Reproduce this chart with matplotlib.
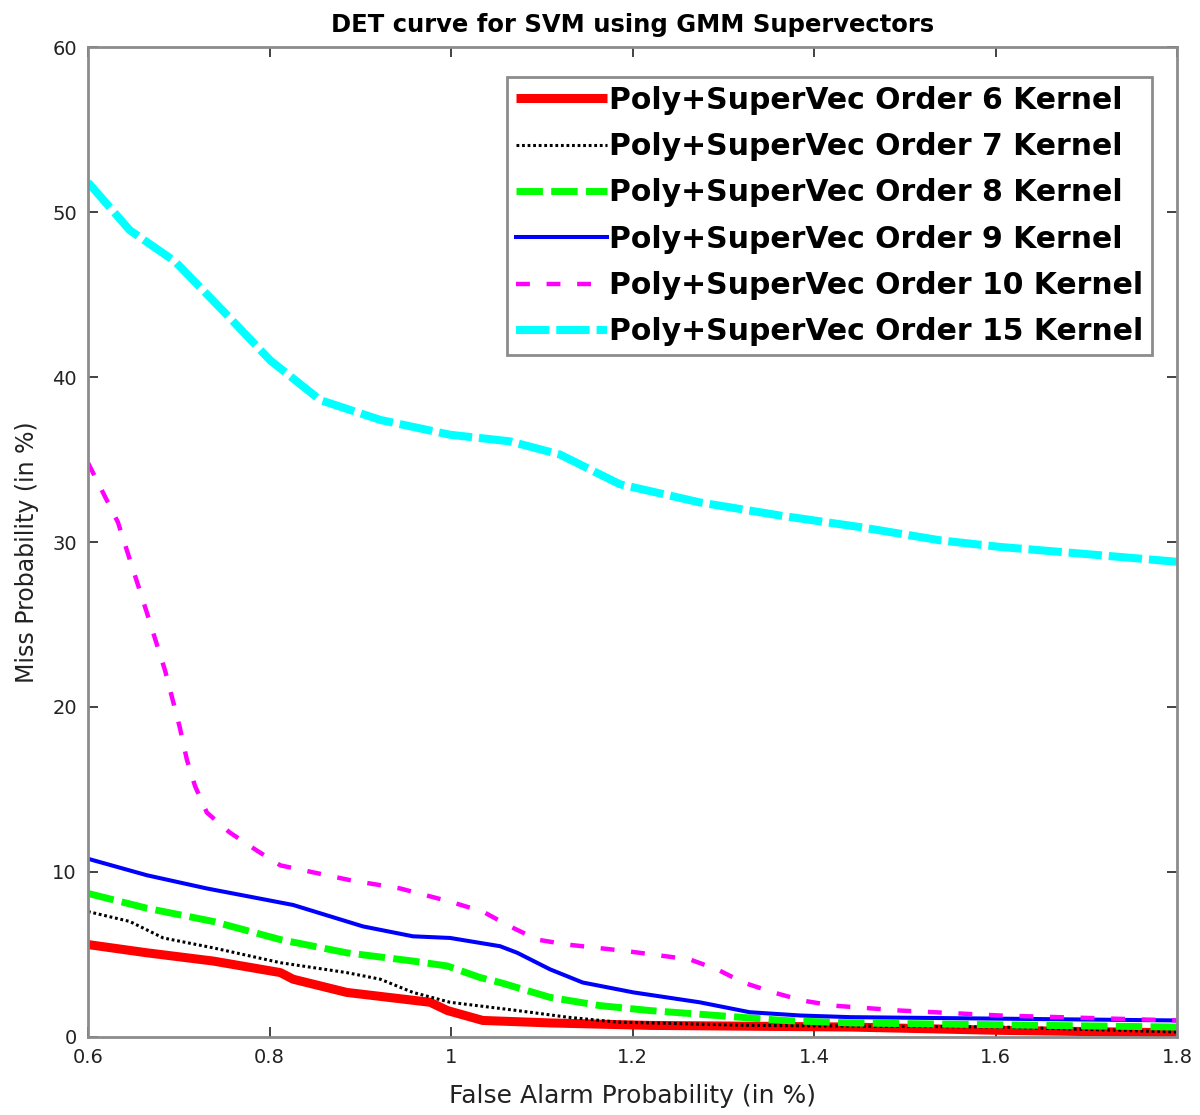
import matplotlib
matplotlib.use("Agg")
import matplotlib.pyplot as plt

plt.rcParams['font.family'] = ['DejaVu Sans']
plt.rcParams['lines.scale_dashes'] = False

# Data
x6 = [0.6, 0.665, 0.738, 0.812, 0.826, 0.885, 0.977, 0.996, 1.035, 1.109, 1.219, 1.440, 1.605, 1.8]
y6 = [5.6, 5.1, 4.6, 3.9, 3.5, 2.7, 2.1, 1.6, 1.0, 0.85, 0.7, 0.6, 0.4, 0.25]

x7 = [0.6, 0.646, 0.683, 0.738, 0.812, 0.885, 0.922, 0.958, 0.999, 1.073, 1.128, 1.183, 1.329, 1.605, 1.8]
y7 = [7.6, 7.0, 6.0, 5.4, 4.5, 3.9, 3.5, 2.7, 2.1, 1.6, 1.2, 0.9, 0.7, 0.6, 0.3]

x8 = [0.6, 0.665, 0.738, 0.812, 0.885, 0.958, 0.996, 1.032, 1.054, 1.109, 1.164, 1.219, 1.293, 1.366, 1.440, 1.8]
y8 = [8.7, 7.8, 7.0, 5.9, 5.1, 4.6, 4.3, 3.6, 3.3, 2.4, 1.9, 1.6, 1.3, 1.0, 0.85, 0.6]

x9 = [0.6, 0.665, 0.731, 0.826, 0.903, 0.958, 0.999, 1.054, 1.073, 1.109, 1.145, 1.201, 1.274, 1.329, 1.385, 1.440, 1.8]
y9 = [10.8, 9.8, 9.0, 8.0, 6.7, 6.1, 6.0, 5.5, 5.1, 4.1, 3.3, 2.7, 2.1, 1.5, 1.3, 1.2, 1.0]

x10 = [0.6, 0.633, 0.644, 0.665, 0.685, 0.701, 0.709, 0.718, 0.731, 0.756, 0.786, 0.812, 0.889, 0.944,
       0.999, 1.035, 1.065, 1.095, 1.128, 1.194, 1.263, 1.293, 1.322, 1.355, 1.388, 1.421, 1.495, 1.605, 1.8]
y10 = [34.8, 31.2, 29.3, 25.7, 22.2, 18.8, 16.8, 15.2, 13.6, 12.4, 11.3, 10.4, 9.5, 9.0,
       8.2, 7.6, 6.7, 5.9, 5.6, 5.2, 4.7, 4.1, 3.3, 2.7, 2.2, 1.9, 1.6, 1.3, 1.0]

x15 = [0.6, 0.646, 0.696, 0.756, 0.801, 0.856, 0.922, 0.999, 1.065, 1.120, 1.186, 1.274, 1.363, 1.451,
       1.539, 1.605, 1.693, 1.8]
y15 = [51.8, 48.9, 47.0, 43.6, 41.0, 38.6, 37.4, 36.5, 36.1, 35.3, 33.5, 32.4, 31.6, 30.9,
       30.1, 29.7, 29.3, 28.8]

labels = ['Poly+SuperVec Order 6 Kernel', 'Poly+SuperVec Order 7 Kernel',
          'Poly+SuperVec Order 8 Kernel', 'Poly+SuperVec Order 9 Kernel',
          'Poly+SuperVec Order 10 Kernel', 'Poly+SuperVec Order 15 Kernel']

xticks = [0.6, 0.8, 1.0, 1.2, 1.4, 1.6, 1.8]
xticklabels = ['0.6', '0.8', '1', '1.2', '1.4', '1.6', '1.8']
yticks = [0, 10, 20, 30, 40, 50, 60]

fig = plt.figure(figsize=(12, 11.15), dpi=100)
ax = fig.add_axes([0.0733, 0.07, 0.9077, 0.8878])

ax.plot(x6, y6, color='#ff0000', lw=6.5, solid_capstyle='butt', label=labels[0])
ax.plot(x7, y7, color='black', lw=2.2, linestyle=(0, (2, 2)), label=labels[1])
ax.plot(x8, y8, color='#00ff00', lw=5.0, linestyle=(0, (19, 6)), label=labels[2])
ax.plot(x9, y9, color='#0000ff', lw=2.9, label=labels[3])
ax.plot(x10, y10, color='#ff00ff', lw=3.2, linestyle=(0, (10, 12)), label=labels[4])
ax.plot(x15, y15, color='#00ffff', lw=5.8, linestyle=(0, (24, 5)), label=labels[5])

ax.set_xlim(0.6, 1.8)
ax.set_ylim(0, 60)
ax.set_xticks(xticks)
ax.set_xticklabels(xticklabels)
ax.set_yticks(yticks)
ax.tick_params(direction='in', top=True, right=True, labelsize=14, length=7, width=1.2,
               color='#222222', labelcolor='#222222', pad=8)
for s in ax.spines.values():
    s.set_color('#8c8c8c')
    s.set_linewidth(2)

ax.set_title('DET curve for SVM using GMM Supervectors', fontsize=17.5, fontweight='bold', pad=11)
ax.set_xlabel('False Alarm Probability (in %)', fontsize=18, color='#222222', labelpad=12)
ax.set_ylabel('Miss Probability (in %)', fontsize=17, color='#222222')
ax.yaxis.set_label_coords(-0.045, 0.49)

leg = ax.legend(loc='upper right', bbox_to_anchor=(0.977, 0.97), borderaxespad=0,
                prop={'size': 21.5, 'weight': 'bold'}, handlelength=3.05, handletextpad=0.05,
                labelspacing=0.58, fancybox=False, framealpha=1, borderpad=0.3)
leg.get_frame().set_edgecolor('#8c8c8c')
leg.get_frame().set_linewidth(2)

fig.savefig('out.png', dpi=100)
